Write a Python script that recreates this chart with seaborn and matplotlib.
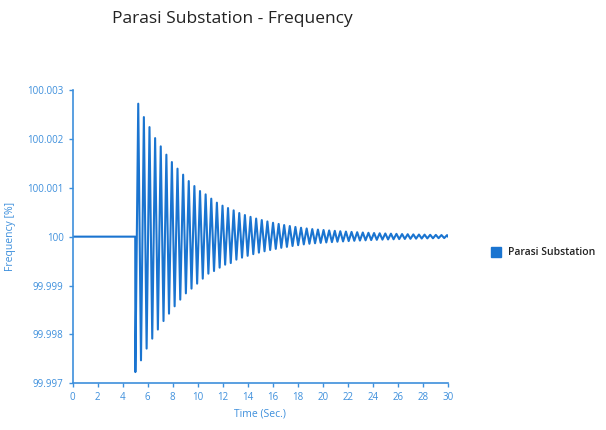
import matplotlib
matplotlib.use("Agg")
import matplotlib.pyplot as plt
import seaborn as sns
import pandas as pd
from matplotlib.lines import Line2D

series_name = "Parasi Substation"
title = "Parasi Substation - Frequency"
x_label = "Time (Sec.)"
y_label = "Frequency [%]"

# pre-disturbance flat section
flat_time = [0.0, 5.0]
flat_value = [100.0, 100.0]

# trough times (s) and depth below 100 (in 0.001 %)
trough_time = [5.01, 5.46, 5.91, 6.36, 6.81, 7.26, 7.70, 8.15, 8.60, 9.05,
               9.50, 9.95, 10.40, 10.85, 11.30, 11.75, 12.19, 12.64, 13.09, 13.54,
               13.99, 14.44, 14.89, 15.34, 15.79, 16.24, 16.68, 17.13, 17.58, 18.03,
               18.48, 18.93, 19.38, 19.83, 20.28, 20.73, 21.17, 21.62, 22.07, 22.52,
               22.97, 23.42, 23.87, 24.32, 24.77, 25.22, 25.66, 26.11, 26.56, 27.01,
               27.46, 27.91, 28.36, 28.81, 29.26, 29.71]
trough_dev = [2.77, 2.53, 2.29, 2.086, 1.90, 1.726, 1.575, 1.425, 1.288, 1.16,
              1.063, 0.961, 0.859, 0.757, 0.703, 0.634, 0.573, 0.540, 0.470, 0.429,
              0.392, 0.358, 0.327, 0.299, 0.273, 0.250, 0.228, 0.209, 0.191, 0.174,
              0.159, 0.146, 0.136, 0.128, 0.119, 0.112, 0.104, 0.098, 0.091, 0.085,
              0.080, 0.075, 0.070, 0.065, 0.061, 0.057, 0.054, 0.050, 0.047, 0.044,
              0.041, 0.038, 0.036, 0.034, 0.031, 0.029]

# peak times (s) and height above 100 (in 0.001 %)
peak_time = [5.24, 5.69, 6.14, 6.59, 7.04, 7.49, 7.93, 8.38, 8.83, 9.28,
             9.73, 10.18, 10.63, 11.08, 11.53, 11.98, 12.42, 12.87, 13.32, 13.77,
             14.22, 14.67, 15.12, 15.57, 16.02, 16.47, 16.91, 17.36, 17.81, 18.26,
             18.71, 19.16, 19.61, 20.06, 20.51, 20.96, 21.40, 21.85, 22.30, 22.75,
             23.20, 23.65, 24.10, 24.55, 25.00, 25.45, 25.89, 26.34, 26.79, 27.24,
             27.69, 28.14, 28.59, 29.04, 29.49, 29.94]
peak_dev = [2.72, 2.446, 2.241, 2.016, 1.847, 1.677, 1.526, 1.391, 1.268, 1.137,
            1.035, 0.933, 0.865, 0.777, 0.695, 0.634, 0.585, 0.538, 0.483, 0.442,
            0.405, 0.370, 0.339, 0.311, 0.284, 0.260, 0.237, 0.217, 0.198, 0.182,
            0.168, 0.155, 0.145, 0.136, 0.127, 0.119, 0.111, 0.104, 0.097, 0.091,
            0.085, 0.079, 0.074, 0.069, 0.065, 0.061, 0.057, 0.053, 0.050, 0.046,
            0.043, 0.041, 0.038, 0.036, 0.033, 0.031]

end_time = [30.0]
end_value = [100.0]

y_ticks = [99.997, 99.998, 99.999, 100.0, 100.001, 100.002, 100.003]
y_tick_labels = ["99.997", "99.998", "99.999", "100", "100.001", "100.002", "100.003"]
x_ticks = list(range(0, 31, 2))

# assemble series
times = list(flat_time)
values = list(flat_value)
for tt, td, pt, pd_ in zip(trough_time, trough_dev, peak_time, peak_dev):
    times += [tt, pt]
    values += [100.0 - td * 1e-3, 100.0 + pd_ * 1e-3]
times += end_time
values += end_value
df = pd.DataFrame({"Time": times, "Frequency": values, "Series": series_name})

line_color = "#1a74d0"
axis_color = "#3d8fdc"

sns.set_theme(style="white")
plt.rcParams["font.family"] = ["Open Sans", "DejaVu Sans"]

fig = plt.figure(figsize=(6.06, 4.30), dpi=100)
ax = fig.add_axes([0.12, 0.1086, 0.619, 0.6821])
sns.lineplot(data=df, x="Time", y="Frequency", hue="Series", palette=[line_color],
             ax=ax, linewidth=1.5, legend=False, sort=False, estimator=None)

ax.set_xlim(0, 30)
ax.set_ylim(99.997, 100.003)
ax.set_xticks(x_ticks)
ax.set_xticklabels([str(v) for v in x_ticks])
ax.set_yticks(y_ticks)
ax.set_yticklabels(y_tick_labels)
ax.tick_params(axis="both", colors=axis_color, labelcolor=axis_color, labelsize=7,
               length=3, width=1, direction="out", left=True, bottom=True)
for s in ["top", "right"]:
    ax.spines[s].set_visible(False)
for s in ["left", "bottom"]:
    ax.spines[s].set_color(axis_color)
    ax.spines[s].set_linewidth(1.2)
ax.set_xlabel(x_label, color=axis_color, fontsize=7.5)
ax.set_ylabel(y_label, color=axis_color, fontsize=7.5, labelpad=8)
ax.grid(False)

fig.text(0.185, 0.955, title, fontsize=12.5, color="#222222", ha="left", va="center")

handle = Line2D([], [], linestyle="none", marker="s", markersize=7,
                markerfacecolor=line_color, markeredgecolor=line_color)
leg = fig.legend(handles=[handle], labels=[series_name], loc="center left",
                 bbox_to_anchor=(0.795, 0.412), frameon=False,
                 prop={"size": 7.5, "weight": "semibold"},
                 handletextpad=0.6, handlelength=1.0)
for t in leg.get_texts():
    t.set_color("#222222")

fig.savefig("out.png", dpi=100)
